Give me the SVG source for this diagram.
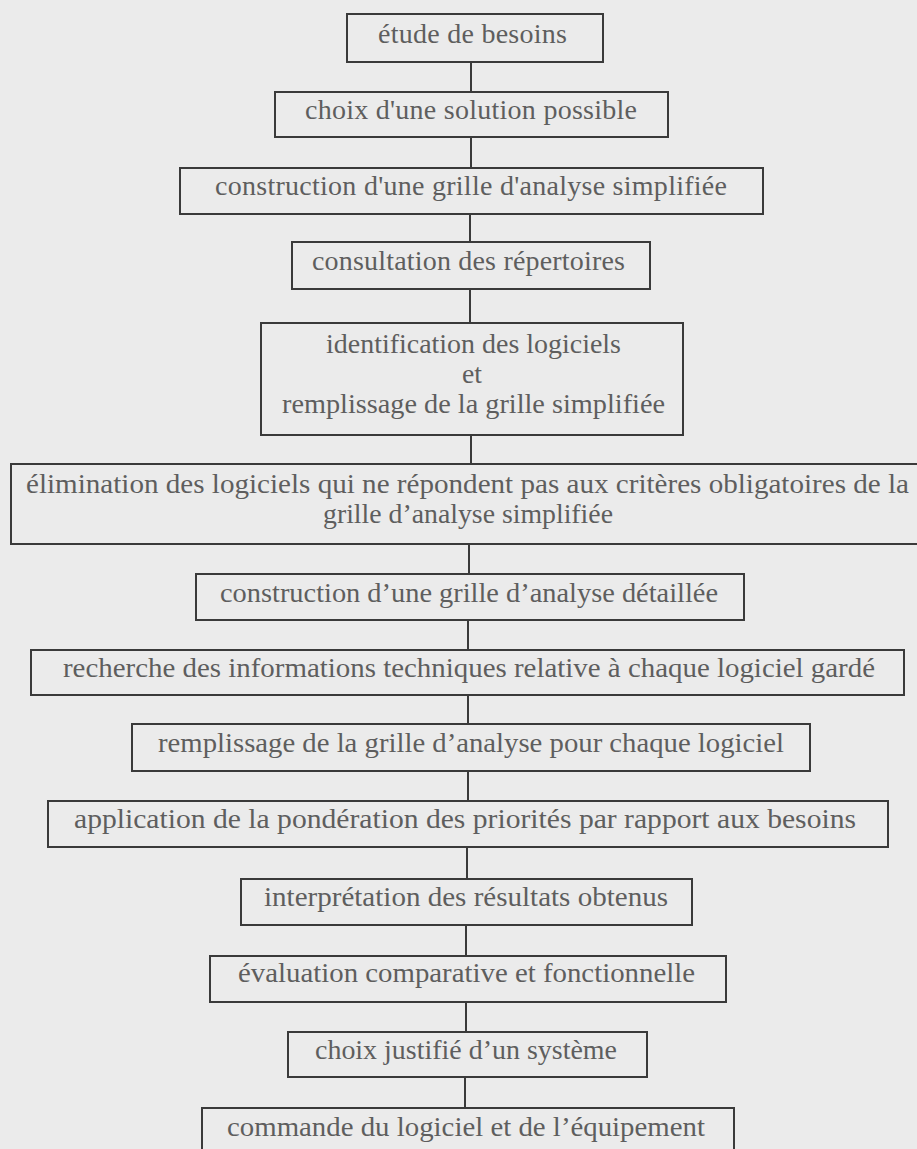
<svg xmlns="http://www.w3.org/2000/svg" width="917" height="1149" viewBox="0 0 917 1149">
<style>
.bg{fill:#ebebeb}
.box{fill:#ebebeb;stroke:#3a3a3a;stroke-width:2}
.t{font-family:"Liberation Serif","Times New Roman",serif;font-size:28px;fill:#5e5e5e}
.c{stroke:#3a3a3a;stroke-width:2;fill:none}
</style>
<rect class="bg" x="0" y="0" width="917" height="1149"/>
<g id="connectors">
<line class="c" x1="471" y1="62" x2="471" y2="92"/>
<line class="c" x1="471" y1="137" x2="471" y2="168"/>
<line class="c" x1="470" y1="214" x2="470" y2="242"/>
<line class="c" x1="470" y1="289" x2="470" y2="323"/>
<line class="c" x1="471" y1="435" x2="471" y2="464"/>
<line class="c" x1="469" y1="544" x2="469" y2="574"/>
<line class="c" x1="468" y1="620" x2="468" y2="650"/>
<line class="c" x1="468" y1="695" x2="468" y2="724"/>
<line class="c" x1="468" y1="771" x2="468" y2="801"/>
<line class="c" x1="467" y1="847" x2="467" y2="879"/>
<line class="c" x1="466" y1="925" x2="466" y2="956"/>
<line class="c" x1="466" y1="1002" x2="466" y2="1032"/>
<line class="c" x1="465" y1="1077" x2="465" y2="1108"/>
</g>
<g id="n1"><rect class="box" x="347" y="14" width="256" height="48"/><text class="t" x="378" y="43" textLength="189" lengthAdjust="spacing">étude de besoins</text></g>
<g id="n2"><rect class="box" x="275" y="92" width="393" height="45"/><text class="t" x="305" y="119" textLength="332" lengthAdjust="spacing">choix d'une solution possible</text></g>
<g id="n3"><rect class="box" x="180" y="168" width="583" height="46"/><text class="t" x="215" y="195" textLength="512" lengthAdjust="spacing">construction d'une grille d'analyse simplifiée</text></g>
<g id="n4"><rect class="box" x="292" y="242" width="358" height="47"/><text class="t" x="312" y="270" textLength="313" lengthAdjust="spacing">consultation des répertoires</text></g>
<g id="n5"><rect class="box" x="261" y="323" width="422" height="112"/>
<text class="t" x="326" y="353" textLength="295" lengthAdjust="spacingAndGlyphs">identification des logiciels</text>
<text class="t" x="462" y="383" textLength="20" lengthAdjust="spacingAndGlyphs">et</text>
<text class="t" x="282" y="413" textLength="383" lengthAdjust="spacingAndGlyphs">remplissage de la grille simplifiée</text></g>
<g id="n6"><rect class="box" x="11" y="464" width="920" height="80"/>
<text class="t" x="26" y="493" textLength="883" lengthAdjust="spacingAndGlyphs">élimination des logiciels qui ne répondent pas aux critères obligatoires de la</text>
<text class="t" x="323" y="523" textLength="290" lengthAdjust="spacingAndGlyphs">grille d’analyse simplifiée</text></g>
<g id="n7"><rect class="box" x="196" y="574" width="548" height="46"/><text class="t" x="220" y="602" textLength="498" lengthAdjust="spacingAndGlyphs">construction d’une grille d’analyse détaillée</text></g>
<g id="n8"><rect class="box" x="31" y="650" width="873" height="45"/><text class="t" x="63" y="677" textLength="812" lengthAdjust="spacingAndGlyphs">recherche des informations techniques relative à chaque logiciel gardé</text></g>
<g id="n9"><rect class="box" x="132" y="724" width="678" height="47"/><text class="t" x="158" y="752" textLength="626" lengthAdjust="spacingAndGlyphs">remplissage de la grille d’analyse pour chaque logiciel</text></g>
<g id="n10"><rect class="box" x="48" y="801" width="840" height="46"/><text class="t" x="74" y="828" textLength="782" lengthAdjust="spacingAndGlyphs">application de la pondération des priorités par rapport aux besoins</text></g>
<g id="n11"><rect class="box" x="241" y="879" width="451" height="46"/><text class="t" x="264" y="906" textLength="404" lengthAdjust="spacingAndGlyphs">interprétation des résultats obtenus</text></g>
<g id="n12"><rect class="box" x="210" y="956" width="516" height="46"/><text class="t" x="238" y="982" textLength="457" lengthAdjust="spacingAndGlyphs">évaluation comparative et fonctionnelle</text></g>
<g id="n13"><rect class="box" x="288" y="1032" width="359" height="45"/><text class="t" x="315" y="1059" textLength="302" lengthAdjust="spacingAndGlyphs">choix justifié d’un système</text></g>
<g id="n14"><rect class="box" x="202" y="1108" width="532" height="60"/><text class="t" x="227" y="1136" textLength="478" lengthAdjust="spacingAndGlyphs">commande du logiciel et de l’équipement</text></g>
</svg>
